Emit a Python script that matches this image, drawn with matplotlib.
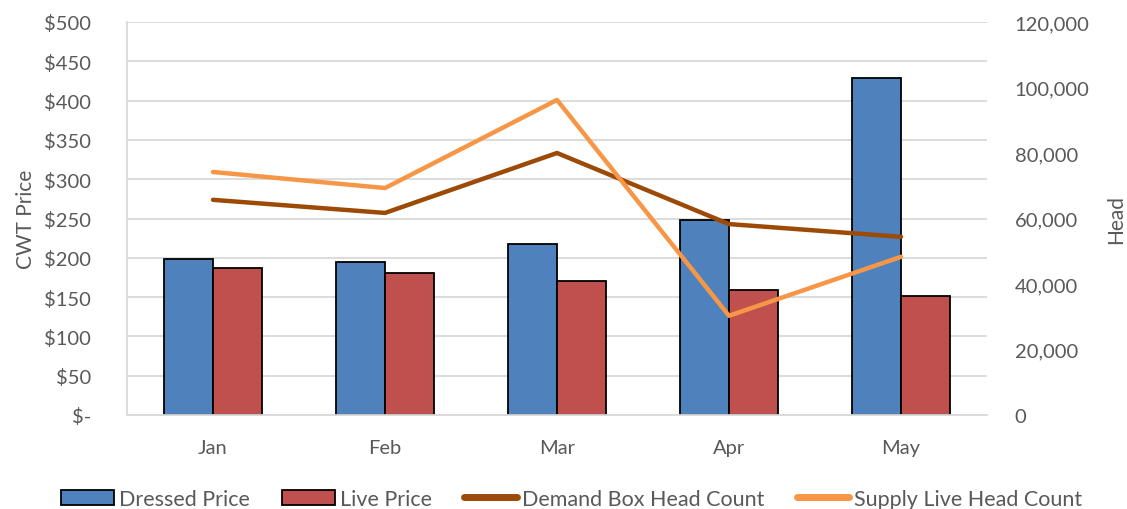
import numpy as np
import matplotlib
matplotlib.use('Agg')
import matplotlib.pyplot as plt
from matplotlib.ticker import FuncFormatter

months = ['Jan', 'Feb', 'Mar', 'Apr', 'May']
dressed_price = [199, 195, 217, 248, 429]
live_price = [187, 181, 170, 159, 152]
demand_head = [65700, 61700, 80000, 58300, 54400]
supply_head = [74200, 69300, 96200, 30300, 48300]

plt.rcParams['font.family'] = ['Lato', 'DejaVu Sans']
text_color = '#595959'
grid_color = '#d9d9d9'

fig = plt.figure(figsize=(11.27, 5.10), dpi=100)
ax = fig.add_axes([127 / 1127, 1 - 416 / 510, 860 / 1127, 393 / 510])
ax2 = ax.twinx()

x = np.arange(len(months))
w = 0.285
ax.bar(x - w / 2, dressed_price, w, color='#4F81BD', edgecolor='black',
       linewidth=1.3, label='Dressed Price', zorder=2)
ax.bar(x + w / 2, live_price, w, color='#C0504D', edgecolor='black',
       linewidth=1.3, label='Live Price', zorder=2)

ax2.plot(x, demand_head, color='#9C4A06', linewidth=3.2,
         solid_capstyle='round', label='Demand Box Head Count')
ax2.plot(x, supply_head, color='#F79646', linewidth=3.2,
         solid_capstyle='round', label='Supply Live Head Count')

ax.set_xlim(-0.5, 4.5)
ax.set_ylim(0, 500)
ax.set_yticks(range(0, 501, 50))
ax.yaxis.set_major_formatter(FuncFormatter(lambda v, p: '$-' if v == 0 else f'${v:.0f}'))
ax2.set_ylim(0, 120000)
ax2.set_yticks(range(0, 120001, 20000))
ax2.yaxis.set_major_formatter(FuncFormatter(lambda v, p: f'{v:,.0f}'))

ax.set_xticks(x)
ax.set_xticklabels(months)
ax.grid(axis='y', color=grid_color, linewidth=1.3, zorder=0)
ax.set_axisbelow(True)

for a in (ax, ax2):
    for s in ('top', 'right', 'left', 'bottom'):
        a.spines[s].set_visible(False)
    a.tick_params(length=0, labelsize=14.5, colors=text_color)
for s in ('left', 'bottom'):
    ax.spines[s].set_visible(True)
    ax.spines[s].set_color(grid_color)
    ax.spines[s].set_linewidth(1.3)

ax.tick_params(axis='y', pad=26)
ax.tick_params(axis='x', pad=17)
ax2.tick_params(axis='y', pad=20)

ax.set_ylabel('CWT Price', fontsize=15, color=text_color, labelpad=6)
ax2.set_ylabel('Head', fontsize=15, color=text_color, labelpad=12)

ax.set_zorder(ax2.get_zorder() - 1)
ax.patch.set_visible(False)
ax2.patch.set_visible(False)

h1, l1 = ax.get_legend_handles_labels()
h2, l2 = ax2.get_legend_handles_labels()
leg = fig.legend(h1 + h2, l1 + l2, loc='center', bbox_to_anchor=(572 / 1127, 1 - 500 / 510),
                 ncol=4, frameon=False, fontsize=15.5, labelcolor=text_color,
                 handlelength=2.45, handletextpad=0.23, columnspacing=1.5,
                 handleheight=0.7)
for ln in leg.get_lines():
    ln.set_linewidth(5)

fig.savefig('out.png', dpi=100)
